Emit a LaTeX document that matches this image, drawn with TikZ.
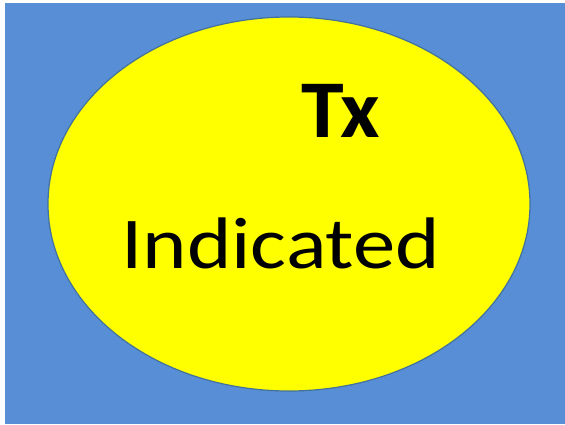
\documentclass[tikz,border=0pt]{standalone}
\usepackage{fontspec}
\setmainfont{Carlito}
\definecolor{bgblue}{RGB}{88,142,213}
\definecolor{edgeblue}{RGB}{65,113,156}
\definecolor{ellyellow}{RGB}{255,255,0}
\begin{document}
\begin{tikzpicture}[x=1pt,y=1pt,
  lbl/.style={anchor=base west,inner sep=0pt,text=black}]
\useasboundingbox (0,0) rectangle (565,424);
\fill[bgblue] (5,0) rectangle (565,421);
\filldraw[fill=ellyellow,draw=edgeblue,line width=1.2pt] (289,220) ellipse [x radius=241,y radius=187];
\node[lbl,font=\fontsize{82}{82}\selectfont\bfseries,xscale=1.05] (tx) at (301,287) {Tx};
\node[lbl,font=\fontsize{73}{73}\selectfont,xscale=1.16] (ind) at (121,156) {Indicated};
\end{tikzpicture}
\end{document}
